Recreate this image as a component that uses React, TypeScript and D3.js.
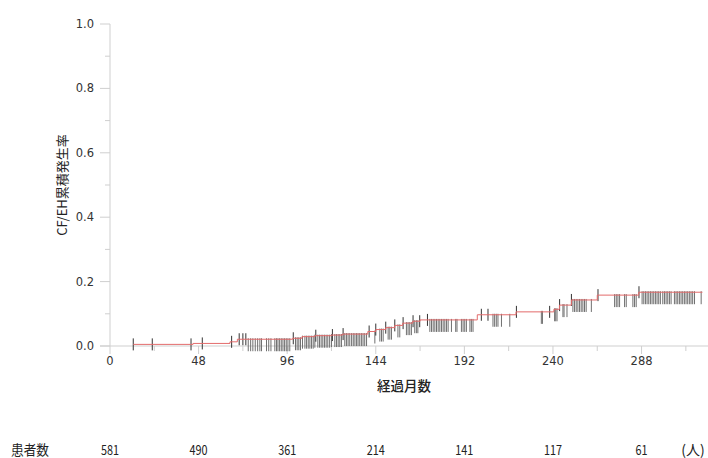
import React from "react";
import * as d3 from "d3";

// step points of the cumulative incidence curve (months, value)
const stepTimes = [12.6, 45, 65, 69, 99, 104, 111, 120, 126, 139.7, 144, 149.4, 154.3, 158.6, 164, 168, 199, 220, 240.5, 243.5, 250, 264, 286.5];
const stepValues = [0.005, 0.008, 0.013, 0.021, 0.024, 0.029, 0.032, 0.034, 0.037, 0.045, 0.051, 0.057, 0.064, 0.071, 0.077, 0.081, 0.097, 0.106, 0.114, 0.127, 0.143, 0.158, 0.167];
const lastTime = 321;

// censor marks drawn across the line
const censorCentered = [12.6, 22.9, 43.9, 50, 65.9, 70, 72, 73.6, 99.3, 111.5, 120.5, 126.3, 140.4, 144, 149.4, 154.3, 158.8, 164.2, 167.8, 172, 201.2, 204.8, 220.2, 238.2, 243.6, 250, 264.4, 286.6];
// censor marks hanging below the line
const censorHanging = [
  74.9, 76.2, 77.4, 78.7, 80, 81.2, 82.1, 84.8, 86, 87.2, 89.3, 90.2, 91, 91.9, 92.8, 93.7, 94.6, 95.5, 96.4, 97.4,
  100.5, 101.4, 102.3, 103.2, 104.3, 105.6, 106.5, 107.4, 108.3, 109.2, 110.1, 111, 112.6, 113.5, 114.4, 115.3, 116.2,
  117.1, 118, 119, 120, 121.8, 122.7, 123.6, 124.5, 125.4, 127.2, 128.1, 129, 129.9, 130.9, 131.8, 132.7, 133.6, 134.4,
  135.3, 136.2, 137.1, 138, 139, 143.5, 146.2, 147.1, 148, 150.7, 151.6, 152.5, 156, 157, 160.6, 161.5, 162.4, 163.3,
  165.1, 166, 166.8, 173.3, 174.2, 175.1, 176, 176.9, 177.8, 178.7, 179.6, 180.5, 181.4, 182.3, 183.2, 185, 187.3, 188,
  190.4, 191.3, 192.2, 193.1, 195, 195.8, 196.7, 207.5, 208.4, 209.3, 210.2, 212.1, 216.6, 233.7, 234.3, 240.9, 241.5,
  242.2, 245.4, 246, 247.6, 250.8, 251.7, 252.6, 253.5, 254.4, 255.3, 256.2, 257.1, 258, 260.8, 273.4, 274.3, 275.2,
  276.1, 278.8, 279.7, 283.3, 284.2, 285.1, 288.3, 289.2, 290.1, 291, 291.9, 292.8, 293.7, 294.6, 295.5, 296.4, 297.3,
  298.2, 299.5, 300.4, 301.3, 302.2, 303.1, 304, 305.8, 306.7, 307.6, 308.5, 309.4, 310.3, 311.2, 312.1, 313, 313.9,
  314.8, 315.7, 316.7, 320.3,
];

const xTicks = [0, 48, 96, 144, 192, 240, 288];
const xMinorTicks = [24, 72, 120, 168, 216, 264, 312];
const yTicks = [0, 0.2, 0.4, 0.6, 0.8, 1.0];
const yMinorTicks = [0.1, 0.3, 0.5, 0.7, 0.9];

const atRiskMonths = [0, 48, 96, 144, 192, 240, 288];
const atRiskCounts = [581, 490, 361, 214, 141, 117, 61];

const tickFont = "'DejaVu Sans', sans-serif";
const jpFont = "'Noto Sans CJK JP', sans-serif";

const App = () => {
  const x = d3.scaleLinear().domain([0, 324]).range([110, 708]);
  const y = d3.scaleLinear().domain([0, 1]).range([346, 24]);

  const valueAt = (t: number) => {
    const i = d3.bisectRight(stepTimes, t) - 1;
    return i < 0 ? 0 : stepValues[i];
  };

  const pts: [number, number][] = stepTimes.map((t, i) => [t, stepValues[i]]);
  pts.push([lastTime, stepValues[stepValues.length - 1]]);
  const line = d3
    .line<[number, number]>()
    .x((d) => x(d[0]))
    .y((d) => y(d[1]))
    .curve(d3.curveStepAfter);

  return (
    <svg width={708} height={458} style={{ position: "absolute", left: 0, top: 0 }}>
      <rect width={708} height={458} fill="#fff" />
      {/* axes */}
      <line x1={x(0)} x2={x(0)} y1={y(1)} y2={y(0)} stroke="#cfcfcf" />
      <line x1={100} x2={708} y1={y(0)} y2={y(0)} stroke="#cfcfcf" />
      {yTicks.map((t) => (
        <g key={"y" + t}>
          <line x1={100} x2={x(0)} y1={y(t)} y2={y(t)} stroke="#cfcfcf" />
          <text x={94} y={y(t)} dy="0.35em" textAnchor="end" fontFamily={tickFont} fontSize={11.5} fill="#333">
            {t.toFixed(1)}
          </text>
        </g>
      ))}
      {yMinorTicks.map((t) => (
        <line key={"ym" + t} x1={105} x2={x(0)} y1={y(t)} y2={y(t)} stroke="#cfcfcf" />
      ))}
      {xTicks.map((t) => (
        <g key={"x" + t}>
          <line x1={x(t)} x2={x(t)} y1={y(0)} y2={y(0) + 8} stroke="#cfcfcf" />
          <text x={x(t)} y={y(0) + 15} dy="0.35em" textAnchor="middle" fontFamily={tickFont} fontSize={11.5} fill="#333">
            {t}
          </text>
        </g>
      ))}
      {xMinorTicks.map((t) => (
        <line key={"xm" + t} x1={x(t)} x2={x(t)} y1={y(0)} y2={y(0) + 5} stroke="#cfcfcf" />
      ))}

      {/* censor marks */}
      {censorHanging.map((t, i) => (
        <line key={"h" + i} x1={x(t)} x2={x(t)} y1={y(valueAt(t)) - 1} y2={y(valueAt(t)) + 12} stroke="#6f6f6f" strokeWidth={1} />
      ))}
      {censorCentered.map((t, i) => (
        <line key={"c" + i} x1={x(t)} x2={x(t)} y1={y(valueAt(t)) - 6} y2={y(valueAt(t)) + 6} stroke="#333" strokeWidth={1} />
      ))}
      <path d={line(pts) || ""} fill="none" stroke="#e36b6b" strokeWidth={1} />

      {/* titles */}
      <text
        transform={`translate(67, ${(y(0) + y(1)) / 2}) rotate(-90)`}
        textAnchor="middle"
        fontFamily={jpFont}
        fontSize={13}
        fill="#222"
      >
        CF/EH累積発生率
      </text>
      <text x={404} y={386} dy="0.35em" textAnchor="middle" fontFamily={jpFont} fontSize={13.5} fontWeight={500} fill="#222">
        経過月数
      </text>

      {/* number at risk */}
      <text x={11} y={450} dy="0.35em" fontFamily={jpFont} fontSize={14} fill="#222" textLength={38} lengthAdjust="spacingAndGlyphs">
        患者数
      </text>
      {atRiskMonths.map((m, i) => (
        <text
          key={"r" + m}
          x={x(m)}
          y={450}
          dy="0.35em"
          textAnchor="middle"
          fontFamily={jpFont}
          fontSize={14}
          fill="#222"
          textLength={String(atRiskCounts[i]).length * 6}
          lengthAdjust="spacingAndGlyphs"
        >
          {atRiskCounts[i]}
        </text>
      ))}
      <text x={693} y={450} dy="0.35em" textAnchor="middle" fontFamily={jpFont} fontSize={14} fill="#222">
        (人)
      </text>
    </svg>
  );
};

export default App;
